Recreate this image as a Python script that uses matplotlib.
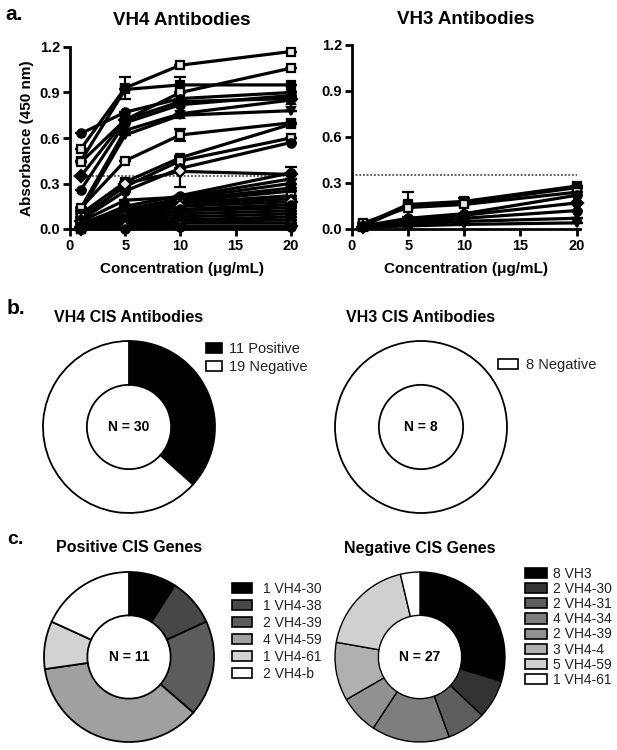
import matplotlib
matplotlib.use("Agg")
import matplotlib.pyplot as plt
from matplotlib.patches import Patch

plt.rcParams['font.family'] = ['Liberation Sans', 'DejaVu Sans']

# ---------------- data ----------------
conc = [1, 5, 10, 20]
x_ticks = [0, 5, 10, 15, 20]
y_ticks = [0.0, 0.3, 0.6, 0.9, 1.2]
cutoff = 0.35

vh4_values = [
    [0.53, 0.93, 1.08, 1.17],
    [0.45, 0.92, 0.95, 0.95],
    [0.44, 0.72, 0.90, 1.06],
    [0.63, 0.77, 0.86, 0.90],
    [0.35, 0.72, 0.84, 0.86],
    [0.26, 0.70, 0.82, 0.88],
    [0.14, 0.65, 0.76, 0.85],
    [0.12, 0.62, 0.75, 0.78],
    [0.14, 0.45, 0.62, 0.70],
    [0.10, 0.31, 0.47, 0.69],
    [0.08, 0.28, 0.45, 0.60],
    [0.06, 0.25, 0.40, 0.57],
    [0.05, 0.30, 0.38, 0.36],
    [0.03, 0.15, 0.22, 0.37],
    [0.05, 0.19, 0.21, 0.33],
    [0.04, 0.13, 0.20, 0.30],
    [0.03, 0.12, 0.19, 0.27],
    [0.02, 0.11, 0.18, 0.25],
    [0.03, 0.10, 0.17, 0.22],
    [0.02, 0.09, 0.16, 0.20],
    [0.01, 0.08, 0.15, 0.18],
    [0.02, 0.07, 0.13, 0.16],
    [0.01, 0.06, 0.12, 0.14],
    [0.01, 0.05, 0.10, 0.12],
    [0.00, 0.04, 0.08, 0.10],
    [0.01, 0.03, 0.06, 0.08],
    [0.00, 0.02, 0.05, 0.06],
    [0.00, 0.02, 0.04, 0.04],
    [0.00, 0.01, 0.02, 0.02],
    [0.00, 0.00, 0.01, 0.01],
]
vh4_errors = [
    [0.0, 0.07, 0.0, 0.0],
    [0.0, 0.0, 0.05, 0.0],
    [0.0, 0.0, 0.0, 0.0],
    [0.0, 0.0, 0.0, 0.0],
    [0.0, 0.0, 0.0, 0.0],
    [0.0, 0.0, 0.0, 0.0],
    [0.0, 0.0, 0.0, 0.0],
    [0.0, 0.0, 0.0, 0.0],
    [0.0, 0.0, 0.04, 0.0],
    [0.0, 0.0, 0.0, 0.0],
    [0.0, 0.0, 0.0, 0.0],
    [0.0, 0.0, 0.0, 0.0],
    [0.0, 0.0, 0.10, 0.0],
    [0.0, 0.0, 0.0, 0.04],
] + [[0.0, 0.0, 0.0, 0.0]] * 16

vh3_values = [
    [0.03, 0.16, 0.18, 0.28],
    [0.02, 0.15, 0.17, 0.27],
    [0.04, 0.14, 0.16, 0.24],
    [0.02, 0.07, 0.10, 0.22],
    [0.01, 0.05, 0.09, 0.17],
    [0.02, 0.04, 0.07, 0.12],
    [0.01, 0.03, 0.05, 0.07],
    [0.01, 0.02, 0.03, 0.04],
]
vh3_errors = [
    [0.0, 0.08, 0.02, 0.0],
] + [[0.0, 0.0, 0.0, 0.0]] * 7

b_left_labels = ['11 Positive', '19 Negative']
b_left_counts = [11, 19]
b_right_labels = ['8 Negative']
b_right_counts = [8]

pos_labels = ['1 VH4-30', '1 VH4-38', '2 VH4-39', '4 VH4-59', '1 VH4-61', '2 VH4-b']
pos_counts = [1, 1, 2, 4, 1, 2]
neg_labels = ['8 VH3', '2 VH4-30', '2 VH4-31', '4 VH4-34', '2 VH4-39', '3 VH4-4', '5 VH4-59', '1 VH4-61']
neg_counts = [8, 2, 2, 4, 2, 3, 5, 1]

# ---------------- styles ----------------
W, H = 617, 750
fig = plt.figure(figsize=(W / 100, H / 100), dpi=100)


def px_axes(x0, y0, w, h):
    return fig.add_axes([x0 / W, 1 - (y0 + h) / H, w / W, h / H])


marker_cycle = ['s', 's', 's', 'o', 'D', 'o', '^', 'v']
fill_cycle = [False, True, False, True, True, True, True, True, False, True]


def line_panel(ax, values, errors, title, show_ylabel, title_pad):
    for i, (vals, errs) in enumerate(zip(values, errors)):
        m = marker_cycle[i % len(marker_cycle)]
        filled = fill_cycle[i % len(fill_cycle)]
        ax.errorbar(conc, vals, yerr=errs, color='black', lw=2.3,
                    marker=m, ms=6, mew=1.6,
                    mfc='black' if filled else '#e8e8e8', mec='black',
                    capsize=4, elinewidth=1.6, capthick=1.6,
                    clip_on=False, zorder=3)
    ax.axhline(cutoff, xmin=0.0, xmax=20 / 20.3, color='#333333', lw=1.1,
               ls=(0, (1.2, 1.2)), zorder=2)
    ax.set_xlim(0, 20.3)
    ax.set_ylim(0, 1.2)
    ax.set_xticks(x_ticks)
    ax.set_yticks(y_ticks)
    ax.set_yticklabels([f'{t:.1f}' for t in y_ticks])
    for s in ['top', 'right']:
        ax.spines[s].set_visible(False)
    for s in ['left', 'bottom']:
        ax.spines[s].set_linewidth(2)
    ax.tick_params(direction='out', length=5, width=2, labelsize=10.5, pad=2)
    for lab in ax.get_xticklabels() + ax.get_yticklabels():
        lab.set_fontweight('bold')
    ax.set_title(title, fontsize=13.5, fontweight='bold', pad=title_pad)
    ax.set_xlabel('Concentration (μg/mL)', fontsize=11, fontweight='bold', labelpad=7)
    if show_ylabel:
        ax.set_ylabel('Absorbance (450 nm)', fontsize=11, fontweight='bold', labelpad=4)


ax1 = px_axes(70, 47, 224, 182)
line_panel(ax1, vh4_values, vh4_errors, 'VH4 Antibodies', True, 16)
ax2 = px_axes(352, 45, 228, 184)
line_panel(ax2, vh3_values, vh3_errors, 'VH3 Antibodies', False, 15)


def donut(cx, cy, r, counts, colors, title, center_text, edge_lw=1.3):
    ax = px_axes(cx - r, cy - r, 2 * r, 2 * r)
    wedges, _ = ax.pie(counts, colors=colors, startangle=90, counterclock=False,
                       radius=1.0,
                       wedgeprops=dict(width=0.51, edgecolor='black', linewidth=edge_lw))
    ax.set_xlim(-1.0, 1.0)
    ax.set_ylim(-1.0, 1.0)
    ax.set_aspect('equal')
    ax.text(0, 0, center_text, ha='center', va='center', fontsize=10, fontweight='bold')
    fig.text(cx / W, 1 - (cy - r - 24) / H, title, ha='center', va='center',
             fontsize=11.5, fontweight='bold')
    return ax, wedges


def legend_at(labels, colors, x0, y0, fs, spacing, hlen, tpad):
    handles = [Patch(facecolor=c, edgecolor='black', linewidth=1.2) for c in colors]
    fig.legend(handles, labels, loc='upper left',
               bbox_to_anchor=(x0 / W, 1 - y0 / H), frameon=False,
               fontsize=fs, labelspacing=spacing, handlelength=hlen,
               handleheight=0.75, handletextpad=tpad, borderpad=0,
               borderaxespad=0, labelcolor='#222222')


b_left_colors = ['black', 'white']
donut(129, 427, 86, b_left_counts, b_left_colors, 'VH4 CIS Antibodies', 'N = 30')
legend_at(b_left_labels, b_left_colors, 206, 342, 10.5, 0.28, 1.1, 0.45)

b_right_colors = ['white']
donut(421, 427, 86, b_right_counts, b_right_colors, 'VH3 CIS Antibodies', 'N = 8')
legend_at(b_right_labels, b_right_colors, 498, 358, 10.5, 0.15, 1.35, 0.6)

pos_colors = ['#000000', '#474747', '#5c5c5c', '#a0a0a0', '#d2d2d2', '#ffffff']
donut(129, 657, 85, pos_counts, pos_colors, 'Positive CIS Genes', 'N = 11')
legend_at(pos_labels, pos_colors, 232, 582, 10, 0.21, 1.45, 0.75)

neg_colors = ['#000000', '#333333', '#5e5e5e', '#7e7e7e', '#919191', '#b0b0b0', '#d0d0d0', '#ffffff']
donut(420, 657, 85, neg_counts, neg_colors, 'Negative CIS Genes', 'N = 27', edge_lw=1.0)
legend_at(neg_labels, neg_colors, 525, 567, 10, 0.08, 1.55, 0.5)

# panel letters
fig.text(5 / W, 1 - 14 / H, 'a.', fontsize=15, fontweight='bold', va='center', ha='left')
fig.text(7 / W, 1 - 308 / H, 'b.', fontsize=15, fontweight='bold', va='center', ha='left')
fig.text(7 / W, 1 - 540 / H, 'c.', fontsize=14, fontweight='bold', va='center', ha='left')

fig.savefig('out.png', dpi=100)
